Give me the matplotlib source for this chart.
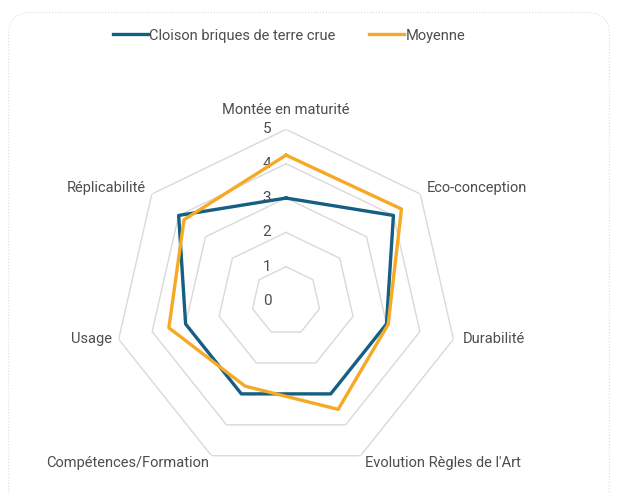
import numpy as np
import matplotlib.pyplot as plt
from matplotlib.patches import FancyBboxPatch

plt.rcParams['font.family'] = ['Roboto', 'DejaVu Sans']

# Critères d'évaluation (axes du radar)
criteres = [
    "Montée en maturité",
    "Eco-conception",
    "Durabilité",
    "Evolution Règles de l'Art",
    "Compétences/Formation",
    "Usage",
    "Réplicabilité",
]
# Notes sur 5
cloison = [3, 4, 3, 3, 3, 3, 4]
moyenne = [4.25, 4.3, 3.05, 3.5, 2.75, 3.5, 3.8]
graduations = [0, 1, 2, 3, 4, 5]

bleu = "#155F82"
orange = "#F6A924"
gris_texte = "#4d4d4d"

n = len(criteres)
angles = np.linspace(0, 2 * np.pi, n, endpoint=False)
angles_ferme = np.append(angles, angles[0])

fig = plt.figure(figsize=(6.18, 4.94), dpi=100)

# cadre arrondi en pointillés
cadre = FancyBboxPatch((0.014, -0.05), 0.972, 1.025, transform=fig.transFigure,
                       boxstyle="round,pad=0,rounding_size=0.04",
                       facecolor="none", edgecolor="#dcdcdc", linestyle=":", linewidth=0.8)
fig.patches.append(cadre)

ax = fig.add_axes([0.185, 0.043, 0.5557, 0.6951], projection="polar")
ax.set_theta_offset(np.pi / 2)
ax.set_theta_direction(-1)
ax.set_ylim(0, 5)
ax.grid(False)
ax.spines["polar"].set_visible(False)
ax.set_xticks([])
ax.set_yticks([])
ax.patch.set_alpha(0)

# grille heptagonale (sans rayons)
for g in graduations[1:]:
    ax.plot(angles_ferme, [g] * (n + 1), color="#d9d9d9", lw=1.0, zorder=1)

ax.plot(angles_ferme, cloison + [cloison[0]], color=bleu, lw=2.4, zorder=3,
        label="Cloison briques de terre crue")
ax.plot(angles_ferme, moyenne + [moyenne[0]], color=orange, lw=2.4, zorder=4,
        label="Moyenne")

# graduations le long de l'axe vertical
for g in graduations:
    ax.annotate(str(g), xy=(0, g), xytext=(-19, 0), textcoords="offset pixels",
                ha="center", va="center", fontsize=11, color=gris_texte)

# libellés des axes
decalages = [
    ((0, 19), "center"),
    ((6, 6), "left"),
    ((9, 0), "left"),
    ((4, -7), "left"),
    ((-2, -7), "right"),
    ((-7, 0), "right"),
    ((-6, 6), "right"),
]
for a, nom, (off, ha) in zip(angles, criteres, decalages):
    ax.annotate(nom, xy=(a, 5), xytext=off, textcoords="offset pixels",
                ha=ha, va="center", fontsize=10.5, color=gris_texte)

fig.legend(loc="center", bbox_to_anchor=(0.468, 0.928), ncol=2, frameon=False,
           fontsize=10.5, handlelength=2.4, handletextpad=0.1, columnspacing=2.3,
           labelcolor=gris_texte)

fig.savefig("out.png", dpi=100)
